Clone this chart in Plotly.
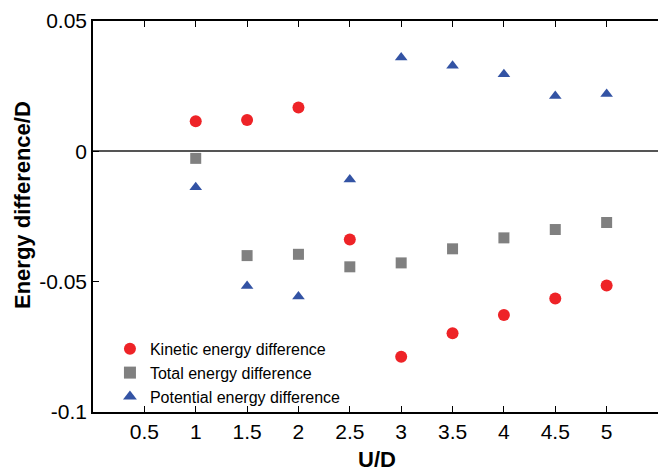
import plotly.graph_objects as go

u_values = [1, 1.5, 2, 2.5, 3, 3.5, 4, 4.5, 5]
kinetic = [0.0115, 0.012, 0.0168, -0.0338, -0.0788, -0.0698, -0.0628, -0.0565, -0.0515]
total = [-0.0027, -0.0400, -0.0395, -0.0443, -0.0428, -0.0374, -0.0332, -0.0300, -0.0273]
potential = [-0.0138, -0.0517, -0.0557, -0.0108, 0.0360, 0.0328, 0.0296, 0.0212, 0.0220]
x_ticks = [0.5, 1, 1.5, 2, 2.5, 3, 3.5, 4, 4.5, 5]
y_ticks = [0.05, 0, -0.05, -0.1]
y_tick_labels = ["0.05", "0", "-0.05", "-0.1"]

fig = go.Figure()
fig.add_trace(go.Scatter(x=u_values, y=kinetic, mode="markers", name="Kinetic energy difference",
                         marker=dict(symbol="circle", size=12, color="#EE2327")))
fig.add_trace(go.Scatter(x=u_values, y=total, mode="markers", name="Total energy difference",
                         marker=dict(symbol="square", size=11, color="#808080")))
fig.add_trace(go.Scatter(x=u_values, y=potential, mode="markers", name="Potential energy difference",
                         marker=dict(symbol="triangle-up", size=11, color="#3353A4")))

font_family = "Liberation Sans, Arial, Helvetica, sans-serif"
plot_w = 658 - 93
plot_h = 472 - 21 - 60
fig.update_layout(
    width=658, height=472,
    margin=dict(l=93, r=0, t=21, b=60),
    plot_bgcolor="white", paper_bgcolor="white",
    font=dict(family=font_family, color="black"),
    showlegend=True,
    legend=dict(x=0.03, y=0.1, xanchor="left", yanchor="middle",
                bgcolor="rgba(0,0,0,0)", font=dict(size=16, family=font_family),
                itemsizing="constant", tracegroupgap=0),
    xaxis=dict(range=[0, 5.5], tickvals=x_ticks, ticktext=[str(v) for v in x_ticks],
               showline=True, linecolor="black", linewidth=1.5, mirror="ticks",
               ticks="inside", ticklen=6, tickwidth=1.2, tickcolor="black",
               showgrid=False, zeroline=False, tickfont=dict(size=21)),
    yaxis=dict(range=[-0.1, 0.05], tickvals=y_ticks, ticktext=y_tick_labels,
               showline=True, linecolor="black", linewidth=1.5,
               ticks="inside", ticklen=6, tickwidth=1.2, tickcolor="black",
               showgrid=False, zeroline=True, zerolinecolor="#555555", zerolinewidth=1.5,
               tickfont=dict(size=21)),
    annotations=[
        dict(text="<b>U/D</b>", xref="paper", yref="paper",
             x=(377 - 93) / plot_w, y=-(459 - 412) / plot_h,
             xanchor="center", yanchor="middle", showarrow=False, font=dict(size=22)),
        dict(text="<b>Energy difference/D</b>", textangle=-90, xref="paper", yref="paper",
             x=-(93 - 22) / plot_w, y=(412 - 205) / plot_h,
             xanchor="center", yanchor="middle", showarrow=False, font=dict(size=22)),
    ],
)
fig.write_html("out.html")
